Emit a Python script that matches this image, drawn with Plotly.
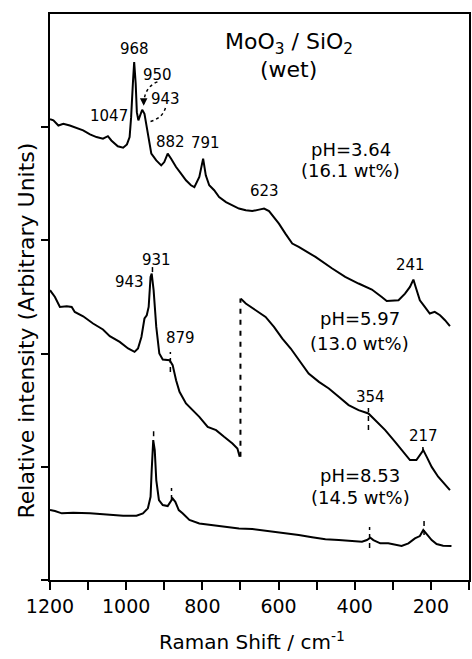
import plotly.graph_objects as go

# ---- data (Raman shift in cm^-1, relative intensity in arbitrary units) ----
top_x = [1200, 1191, 1178, 1165, 1148, 1130, 1113, 1095, 1078, 1061, 1048, 1039, 1022, 1008, 998, 991,
         987, 982, 979, 975, 972, 968, 963, 958, 952, 946, 941, 934, 921, 908, 900, 891, 882, 869,
         856, 843, 830, 821, 808, 798, 791, 782, 769, 756, 738, 721, 704, 686, 669, 651, 638, 625,
         612, 599, 582, 564, 547, 503, 460, 425, 390, 355, 329, 316, 285, 268, 255, 246, 240, 229,
         216, 203, 190, 176, 163, 150]
top_y = [4.07, 4.06, 4.015, 4.03, 4.015, 3.996, 3.972, 3.937, 3.913, 3.899, 3.921, 3.883, 3.831, 3.819,
         3.848, 3.913, 4.089, 4.413, 4.575, 4.384, 4.133, 4.06, 4.119, 4.154, 4.119, 4.001, 3.884,
         3.766, 3.707, 3.663, 3.692, 3.766, 3.722, 3.648, 3.590, 3.531, 3.487, 3.471, 3.560, 3.722,
         3.575, 3.487, 3.443, 3.383, 3.339, 3.310, 3.281, 3.266, 3.259, 3.272, 3.281, 3.259, 3.207,
         3.148, 3.060, 2.972, 2.942, 2.854, 2.754, 2.677, 2.619, 2.566, 2.500, 2.465, 2.471, 2.530,
         2.589, 2.654, 2.589, 2.471, 2.412, 2.354, 2.369, 2.339, 2.295, 2.242]

mid1_x = [1200, 1187, 1174, 1156, 1143, 1135, 1113, 1087, 1061, 1043, 1017, 995, 978, 969, 960, 952,
          946, 941, 936, 933, 928, 921, 913, 904, 886, 878, 869, 860, 843, 826, 808, 786, 764, 743,
          721, 708, 702]
mid1_y = [2.560, 2.500, 2.412, 2.418, 2.412, 2.368, 2.330, 2.266, 2.213, 2.154, 2.103, 2.045, 2.015,
          2.045, 2.147, 2.310, 2.339, 2.412, 2.677, 2.707, 2.560, 2.236, 2.001, 1.948, 1.942, 1.898,
          1.765, 1.662, 1.560, 1.500, 1.441, 1.353, 1.324, 1.265, 1.206, 1.162, 1.088]

mid2_x = [699, 686, 660, 634, 612, 590, 568, 547, 521, 494, 468, 442, 416, 390, 364, 346, 320, 294,
          272, 255, 238, 226, 220, 211, 198, 181, 165, 150]
mid2_y = [2.486, 2.442, 2.383, 2.324, 2.236, 2.133, 2.045, 1.942, 1.824, 1.750, 1.692, 1.618, 1.545,
          1.500, 1.471, 1.412, 1.324, 1.221, 1.132, 1.059, 1.059, 1.118, 1.147, 1.088, 0.999, 0.912,
          0.856, 0.794]

bot_x = [1200, 1187, 1169, 1139, 1095, 1052, 1008, 973, 956, 943, 936, 933, 929, 925, 921, 914, 904,
         891, 884, 878, 871, 862, 852, 834, 808, 773, 738, 704, 669, 634, 590, 547, 512, 477, 442,
         407, 381, 368, 359, 351, 333, 312, 294, 277, 259, 242, 229, 220, 211, 198, 185, 168, 146]
bot_y = [0.618, 0.609, 0.589, 0.594, 0.589, 0.580, 0.568, 0.568, 0.589, 0.633, 0.735, 0.971, 1.236,
         1.147, 0.883, 0.706, 0.662, 0.653, 0.691, 0.721, 0.691, 0.618, 0.589, 0.530, 0.500, 0.485,
         0.470, 0.456, 0.450, 0.435, 0.418, 0.397, 0.377, 0.359, 0.353, 0.344, 0.338, 0.353, 0.373,
         0.353, 0.324, 0.324, 0.309, 0.300, 0.324, 0.368, 0.388, 0.441, 0.406, 0.353, 0.318, 0.303,
         0.300]

# peak labels: (text, x, y)
peak_labels = [("968", 978, 4.69), ("950", 918, 4.46), ("943", 897, 4.25), ("1047", 1046, 4.10),
               ("882", 884, 3.87), ("791", 792, 3.86), ("623", 638, 3.44), ("241", 254, 2.78),
               ("943", 991, 2.63), ("931", 920, 2.83), ("879", 858, 2.14), ("354", 359, 1.62),
               ("217", 220, 1.27)]
# sample labels: (line1, line2, x, y1, y2)
sample_labels = [("pH=3.64", "(16.1 wt%)", 411, 3.80, 3.62),
                 ("pH=5.97", "(13.0 wt%)", 387, 2.31, 2.09),
                 ("pH=8.53", "(14.5 wt%)", 385, 0.92, 0.73)]
# peak marker dashes: (x, y_low, y_high)
markers = [(931, 2.72, 2.77), (884, 1.837, 2.014), (364, 1.325, 1.519), (221, 1.13, 1.21),
           (928, 1.27, 1.34), (881, 0.707, 0.813), (361, 0.283, 0.468), (218, 0.398, 0.53)]
x_ticks = [1200, 1100, 1000, 900, 800, 700, 600, 500, 400, 300, 200, 100]
x_tick_text = ["1200", "", "1000", "", "800", "", "600", "", "400", "", "200", ""]

FONT = "DejaVu Sans"
line = dict(color="black", width=2)

fig = go.Figure()
for xs, ys in [(top_x, top_y), (mid1_x, mid1_y), (mid2_x, mid2_y), (bot_x, bot_y)]:
    fig.add_trace(go.Scatter(x=xs, y=ys, mode="lines", line=line, showlegend=False, hoverinfo="skip"))

# dashed break line at 700 connecting the two segments of the middle spectrum
fig.add_shape(type="line", x0=700, x1=700, y0=mid1_y[-1], y1=mid2_y[0],
              line=dict(color="black", width=2, dash="5px,6px"))
for mx, y0, y1 in markers:
    fig.add_shape(type="line", x0=mx, x1=mx, y0=y0, y1=y1,
                  line=dict(color="black", width=1.5, dash="5px,4px"))

# dotted curved arrows for 950 and 943
fig.add_shape(type="path", path="M 918,4.40 Q 950,4.36 954,4.22",
              line=dict(color="black", width=1.5, dash="dot"))
fig.add_shape(type="path", path="M 897,4.17 Q 905,4.08 937,4.05",
              line=dict(color="black", width=1.5, dash="dot"))
fig.add_annotation(x=954, y=4.19, ax=954, ay=4.23, axref="x", ayref="y", text="",
                   showarrow=True, arrowhead=2, arrowsize=1, arrowwidth=1.5, arrowcolor="black")
fig.add_annotation(x=940, y=4.045, ax=932, ay=4.055, axref="x", ayref="y", text="",
                   showarrow=True, arrowhead=2, arrowsize=1, arrowwidth=1.5, arrowcolor="black")

for t, x, y in peak_labels:
    fig.add_annotation(x=x, y=y, text=t, showarrow=False, xanchor="center", yanchor="middle",
                       font=dict(family=FONT, size=15, color="black"))
for l1, l2, x, y1, y2 in sample_labels:
    fig.add_annotation(x=x, y=y1, text=l1, showarrow=False, xanchor="center", yanchor="middle",
                       font=dict(family=FONT, size=18, color="black"))
    fig.add_annotation(x=x, y=y2, text=l2, showarrow=False, xanchor="center", yanchor="middle",
                       font=dict(family=FONT, size=18, color="black"))

fig.add_annotation(x=573, y=4.74, text="MoO<sub>3</sub> / SiO<sub>2</sub>", showarrow=False,
                   xanchor="center", yanchor="middle", font=dict(family=FONT, size=22, color="black"))
fig.add_annotation(x=573, y=4.51, text="(wet)", showarrow=False,
                   xanchor="center", yanchor="middle", font=dict(family=FONT, size=22, color="black"))

# axis titles
fig.add_annotation(xref="paper", yref="paper", x=-0.056, y=0.44, text="Relative intensity (Arbitrary Units)",
                   textangle=-90, showarrow=False, xanchor="center", yanchor="middle",
                   font=dict(family=FONT, size=22, color="black"))
fig.add_annotation(xref="paper", yref="paper", x=0.483, y=-0.108, text="Raman Shift / cm<sup>-1</sup>",
                   showarrow=False, xanchor="center", yanchor="middle",
                   font=dict(family=FONT, size=20, color="black"))

fig.update_xaxes(range=[1200, 100], tickvals=x_ticks, ticktext=x_tick_text, ticks="outside",
                 ticklen=8, tickwidth=2, tickcolor="black", showline=True, linecolor="black",
                 linewidth=2, mirror=True, showgrid=False, zeroline=False,
                 tickfont=dict(family=FONT, size=19, color="black"))
fig.update_yaxes(range=[0, 5], tickvals=[0, 1, 2, 3, 4], showticklabels=False, ticks="outside",
                 ticklen=7, tickwidth=2, tickcolor="black", showline=True, linecolor="black",
                 linewidth=2, mirror=True, showgrid=False, zeroline=False)
fig.update_layout(width=472, height=659, margin=dict(l=50, r=1, t=14, b=79),
                  plot_bgcolor="white", paper_bgcolor="white", showlegend=False)

fig.write_html("out.html")
